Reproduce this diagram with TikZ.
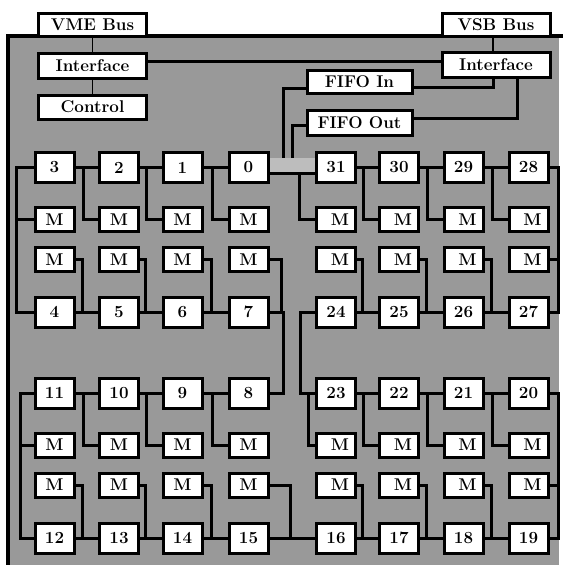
\documentclass[tikz,border=0pt]{standalone}
\usepackage{fontspec}
\begin{document}
\begin{tikzpicture}[x=1pt,y=-1pt,
  base/.style={draw=black, fill=white, line width=3pt, inner sep=0pt,
    font=\bfseries\fontsize{17}{17}\selectfont},
  nbox/.style={base, minimum width=39pt, minimum height=30pt},
  mbox/.style={base, minimum width=39pt, minimum height=24pt},
  wbox/.style={base, minimum width=108pt, minimum height=24pt},
  conn/.style={draw=black, line width=3pt},
  thin/.style={draw=black, line width=1.4pt}]
\definecolor{bg}{gray}{0.6}
\definecolor{busg}{gray}{0.74}
\useasboundingbox (0,0) rectangle (563,565);
% background
\fill[bg] (8,36) rectangle (559,565);
\draw[line width=3.5pt] (8,565) -- (8,36) -- (563,36);
% top boxes
\node[wbox, minimum height=23pt] (vme) at (92.5,24.5) {VME Bus};
\node[wbox, minimum height=25pt] (ifl) at (92.5,65.5) {Interface};
\node[wbox] (ctl) at (92.5,107) {Control};
\node[wbox, minimum height=23pt] (vsb) at (496,24.5) {VSB Bus};
\node[wbox, minimum height=25pt] (ifr) at (496,64.5) {Interface};
\node[base, minimum width=105pt, minimum height=23pt] (fin) at (359.5,81.5) {FIFO In};
\node[base, minimum width=105pt, minimum height=25pt] (fout) at (359.5,122.5) {FIFO Out};
% grid left groups
\foreach \x/\a/\b/\c/\d in {54.5/3/4/11/12, 119/2/5/10/13, 182.5/1/6/9/14, 248.5/0/7/8/15} {
  \node[nbox] (n\a) at (\x,167.5) {\a};
  \node[mbox] (p\a) at (\x,219.5) {M};
  \node[mbox] (q\a) at (\x,259.5) {M};
  \node[nbox] (n\b) at (\x,312) {\b};
  \node[nbox] (n\c) at (\x,393) {\c};
  \node[mbox] (p\c) at (\x,445) {M};
  \node[mbox] (q\c) at (\x,485) {M};
  \node[nbox] (n\d) at (\x,538) {\d};
}
% grid right groups
\foreach \x/\a/\b/\c/\d in {336/31/24/23/16, 399/30/25/22/17, 463.5/29/26/21/18, 528.5/28/27/20/19} {
  \node[nbox] (n\a) at (\x,167.5) {\a};
  \node[mbox] (p\a) at (\x,219.5) {\hspace*{8pt}M};
  \node[mbox] (q\a) at (\x,259.5) {\hspace*{8pt}M};
  \node[nbox] (n\b) at (\x,312) {\b};
  \node[nbox] (n\c) at (\x,393) {\c};
  \node[mbox] (p\c) at (\x,445) {\hspace*{8pt}M};
  \node[mbox] (q\c) at (\x,485) {\hspace*{8pt}M};
  \node[nbox] (n\d) at (\x,538) {\d};
}
% top connectors
\draw[thin] (vme) -- (ifl);
\draw[thin] (ifl) -- (ctl);
\draw[thin] ([xshift=-3pt]vsb.south) -- ([xshift=-3pt]ifr.north);
\draw[conn] ([yshift=4.5pt]ifl.east) -- ([yshift=4.5pt]ifl.east -| ifr.west);
\draw[conn] ([xshift=21pt]ifr.south) |- ([yshift=4.5pt]fout.east);
\draw[conn] ([yshift=-5.5pt]fin.east) -| ([xshift=-3pt]ifr.south);
% bus between 0 and 31
\coordinate (busA) at (283,158);
\coordinate (busB) at (292,158);
\fill[busg] ([yshift=9.5pt]n0.east) rectangle ([yshift=-5.5pt]n31.west);
\draw[conn] ([yshift=-6.5pt]fin.west) -| (busA);
\draw[conn] ([yshift=-2.5pt]fout.west) -| (busB);
\draw[conn] ([yshift=-5.5pt]n0.east) -- ([yshift=-5.5pt]n0.east -| n31.west);
\draw[conn] ([xshift=-16pt,yshift=-5.5pt]n31.west) |- (p31.west);
% generic ladder links
\foreach \a/\b/\c/\d in {3/2/4/5, 2/1/5/6, 1/0/6/7, 31/30/24/25, 30/29/25/26, 29/28/26/27,
                         11/10/12/13, 10/9/13/14, 9/8/14/15, 23/22/16/17, 22/21/17/18, 21/20/18/19} {
  \draw[conn] (n\a) -- (n\b);
  \draw[conn] (n\c) -- (n\d);
  \draw[conn] ([xshift=-15pt]n\b.west) |- (p\b.west);
  \draw[conn] (q\a.east) -| ([xshift=-16pt]n\d.west);
}
% left ends
\draw[conn] (n3.west) -- ++(-17,0) |- (n4.west);
\draw[conn] ([xshift=-17pt]n3.west) |- (p3.west);
\draw[conn] (n11.west) -- ++(-13,0) |- (n12.west);
\draw[conn] ([xshift=-13pt]n11.west) |- (p11.west);
% right ends
\draw[conn] (n28.east) -- ++(9,0) |- (n27.east);
\draw[conn] ([xshift=9pt]n28.east) |- (q28.east);
\draw[conn] (n20.east) -- ++(9,0) |- (n19.east);
\draw[conn] ([xshift=9pt]n20.east) |- (q20.east);
% centre links
\draw[conn] (n7.east) -- ++(14,0) |- (n8.east);
\draw[conn] (q0.east) -| ([xshift=12pt]n7.east);
\draw[conn] (n24.west) -- ++(-15,0) |- (n23.west);
\draw[conn] ([xshift=-7pt]n23.west) |- (p23.west);
\draw[conn] (n15) -- (n16);
\draw[conn] (q8.east) -| ([xshift=-25pt]n16.west);
\end{tikzpicture}
\end{document}
